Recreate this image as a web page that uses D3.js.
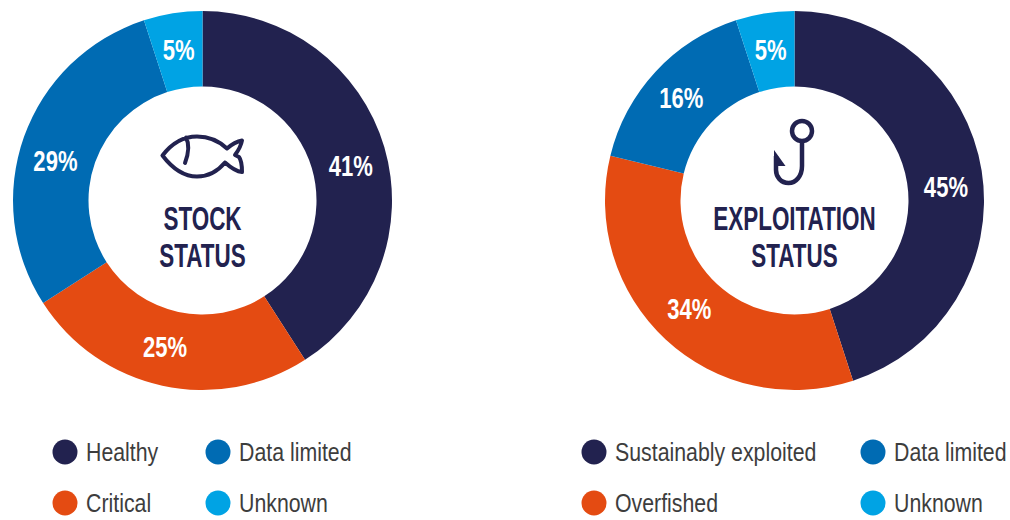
<!DOCTYPE html>
<html>
<head>
<meta charset="utf-8">
<script src="https://cdn.jsdelivr.net/npm/d3@7/dist/d3.min.js"></script>
<style>
    html, body { margin: 0; padding: 0; background: #fff; }
    svg { display: block; }
    text { font-family: "Liberation Sans", sans-serif; }
</style>
</head>
<body>
<svg id="chart" width="1010" height="520"></svg>
<script>
const statuses = ['main', 'bad', 'limited', 'unknown'];
const statusColors = ['#22224f', '#e44b12', '#006bb3', '#00a3e4'];

// shown rounded, the slices are a little off the whole numbers
const stockValues = [40.9, 25, 29.1, 5];
const stockLegend = ['Healthy', 'Critical', 'Data limited', 'Unknown'];
const stockTitle = ['STOCK', 'STATUS'];

const exploitValues = [45, 33.8, 16.2, 5];
const exploitLegend = ['Sustainably exploited', 'Overfished', 'Data limited', 'Unknown'];
const exploitTitle = ['EXPLOITATION', 'STATUS'];

const fishIcon = 'M162.5 155.5 C172 143 184 136.5 197 136.5 C209 136.5 219 141 227 148.5 C231 145 236 141.5 242 140.5 C241 146 238 151 235 155 L239 157 M225 162.5 C218 171 208 176.5 197 176.5 C184 176.5 172 168 162.5 155.5 M225 162.5 C230 167 236 171.5 242 172 C242 167 242 161 239 157 M186 137.5 C190 145 188 155 185 163';
const hookIcon = 'M802 141 L802 166 C802 176 796 183 788.5 183 C781 183 776 177 776 170 L776 156';
const barbIcon = 'M774 150 L785.5 166 L774 166 Z';

const color = d3.scaleOrdinal().domain(statuses).range(statusColors);
const svg = d3.select('#chart');

const outerR = 189.5, innerR = 114, labelR = 152;
const cy = 200.5;

const pie = d3.pie().sort(null).value(d => d.value);
const arc = d3.arc().innerRadius(innerR).outerRadius(outerR);
const labelArc = d3.arc().innerRadius(labelR).outerRadius(labelR);

// no condensed face installed, so squeeze the plain one
function narrowText(sel, x, y, sx) {
    return sel.attr('text-anchor', 'middle')
        .attr('transform', `translate(${x},${y}) scale(${sx},1)`);
}

function drawDonut(cx, values, title, labelTurn) {
    const rows = statuses.map((s, i) => ({ status: s, value: values[i] }));
    const g = svg.append('g').attr('transform', `translate(${cx},${cy})`);

    g.selectAll('path.slice')
        .data(pie(rows))
        .join('path')
        .attr('class', 'slice')
        .attr('fill', d => color(d.data.status))
        .attr('d', arc);

    g.selectAll('text.pct')
        .data(pie(rows))
        .join('text')
        .attr('class', 'pct')
        .attr('fill', '#fff')
        .attr('font-size', 29)
        .attr('font-weight', 700)
        .attr('dy', '0.32em')
        .text(d => Math.round(d.data.value) + '%')
        .each(function (d, i) {
            // labels don't sit exactly mid slice in the original
            const turn = labelTurn[i] * Math.PI / 180;
            const c = labelArc.centroid({ startAngle: d.startAngle + turn, endAngle: d.endAngle + turn });
            narrowText(d3.select(this), c[0], c[1], 0.76);
        });

    g.selectAll('text.title')
        .data(title)
        .join('text')
        .attr('class', 'title')
        .attr('fill', '#22224f')
        .attr('font-size', 34)
        .attr('font-weight', 700)
        .text(d => d)
        .each(function (d, i) {
            narrowText(d3.select(this), 0, 29.5 + i * 37, 0.66);
        });
}

function drawLegend(dotX, labels) {
    const xs = [dotX[0], dotX[0], dotX[1], dotX[1]];
    const ys = [452, 503, 452, 503];
    const items = svg.append('g').selectAll('g')
        .data(labels)
        .join('g')
        .attr('transform', (d, i) => `translate(${xs[i]},${ys[i]})`);

    items.append('circle')
        .attr('r', 12.5)
        .attr('fill', (d, i) => color(statuses[i]));

    items.append('text')
        .attr('y', 9)
        .attr('fill', '#3d3d3d')
        .attr('font-size', 26)
        .attr('transform', 'translate(21,0) scale(0.82,1)')
        .text(d => d);
}

drawDonut(202.5, stockValues, stockTitle, [3.5, 2, -5, 0]);
drawDonut(794.5, exploitValues, exploitTitle, [4, 1, -1, 0]);
drawLegend([65, 218], stockLegend);
drawLegend([594, 873], exploitLegend);

svg.append('path').attr('d', fishIcon)
    .attr('fill', 'none').attr('stroke', '#22224f').attr('stroke-width', 4)
    .attr('stroke-linecap', 'round').attr('stroke-linejoin', 'round');

svg.append('circle').attr('cx', 802).attr('cy', 131).attr('r', 10)
    .attr('fill', 'none').attr('stroke', '#22224f').attr('stroke-width', 4.5);
svg.append('path').attr('d', hookIcon)
    .attr('fill', 'none').attr('stroke', '#22224f').attr('stroke-width', 4.5);
svg.append('path').attr('d', barbIcon).attr('fill', '#22224f');
</script>
</body>
</html>
